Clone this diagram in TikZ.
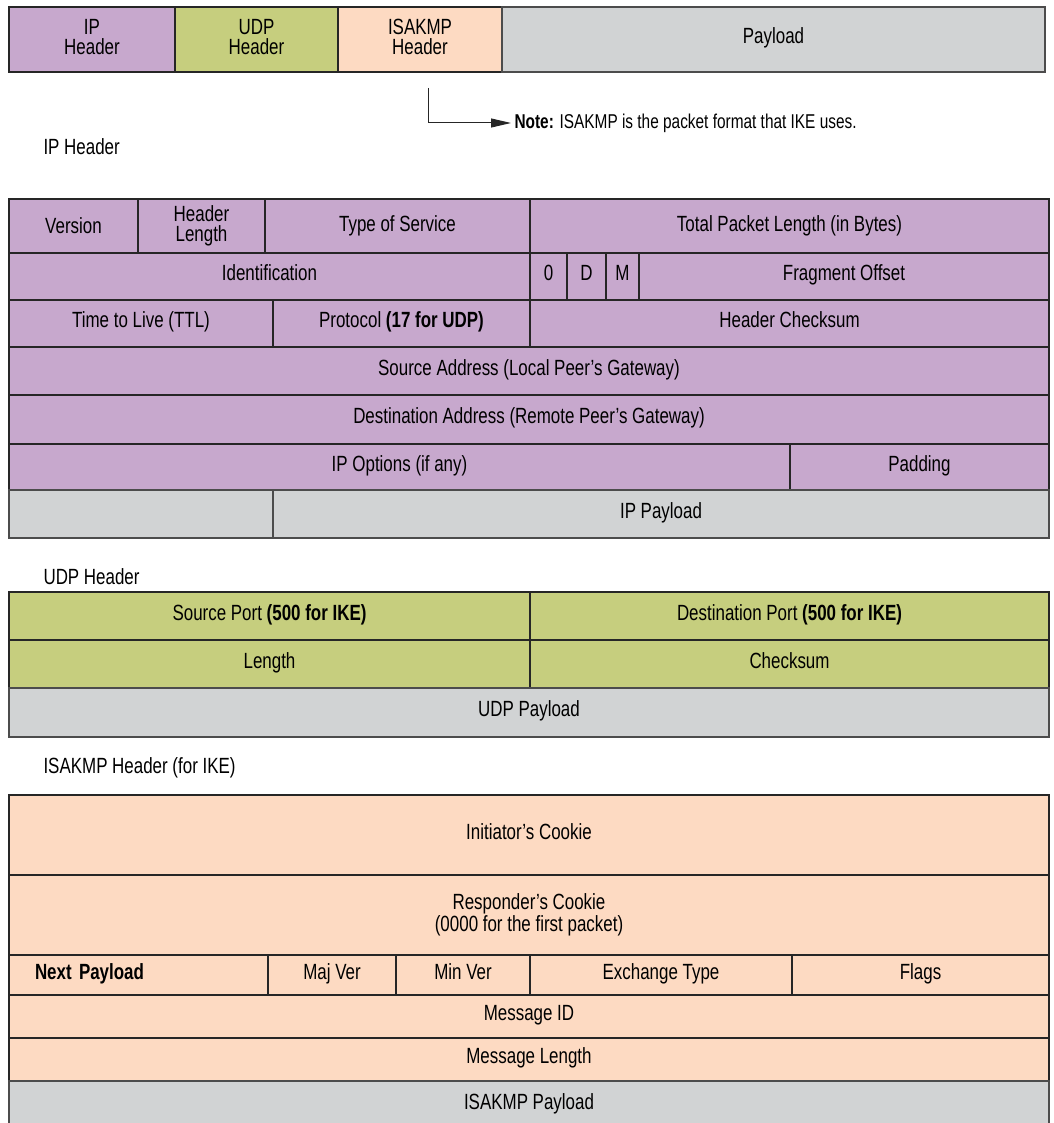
\documentclass[tikz,border=0pt]{standalone}
\usepackage{fontspec}
\setmainfont[FakeStretch=0.77]{Liberation Sans}
\usepackage{xcolor}
\usepackage{tikz}
\usetikzlibrary{arrows.meta,positioning}
\definecolor{ippurple}{RGB}{199,168,205}
\definecolor{udpgreen}{RGB}{198,206,126}
\definecolor{isapeach}{RGB}{253,218,194}
\definecolor{paygray}{RGB}{209,211,212}

\begin{document}
\begin{tikzpicture}[x=1pt,y=-1pt,
    every node/.style={font=\fontsize{22}{20}\selectfont},
    cell/.style={rectangle,draw=black!85,line width=1.4pt,inner sep=0pt,align=center,text height=16pt,text depth=8pt},
    plain/.style={text height={},text depth={}},
    ipbox/.style={cell,fill=ippurple},
    udpbox/.style={cell,fill=udpgreen},
    isabox/.style={cell,fill=isapeach},
    paybox/.style={cell,fill=paygray,draw=black!70},
    title/.style={anchor=west},
    notearrow/.style={-{Triangle[length=20pt,width=9pt]},line width=1pt,black!85},
]
\useasboundingbox (0,0) rectangle (1053,1123);

\node[ipbox,plain,minimum width=166,minimum height=65]  (tip)  at (92,39.5)    {IP\\Header\strut};
\node[udpbox,plain,minimum width=163,minimum height=65] (tudp) at (256.5,39.5) {UDP\\Header\strut};
\node[isabox,plain,minimum width=164,minimum height=65] (tisa) at (420,39.5)   {ISAKMP\\Header\strut};
\node[paybox,minimum width=543,minimum height=65] (tpay) at (773.5,39.5) {Payload};

\coordinate (tap) at (428,88);
\node[anchor=west,font=\fontsize{20}{20}\selectfont] (note) at (511,123) {\textbf{Note:} ISAKMP is the packet format that IKE uses.};
\draw[notearrow] (tap) |- (note.west);

\node[title] (iptitle) at (40,147) {IP Header};
\node[ipbox,plain,minimum width=129,minimum height=54] (ver)  at (73.5,226)  {Version};
\node[ipbox,plain,minimum width=127,minimum height=54] (hlen) at (201.5,226) {Header\\Length};
\node[ipbox,plain,minimum width=265,minimum height=54] (tos)  at (397.5,226) {Type of Service};
\node[ipbox,plain,minimum width=519,minimum height=54] (tlen) at (789.5,226) {Total Packet Length (in Bytes)};
\node[ipbox,minimum width=521,minimum height=47] (ident) at (269.5,276.5) {Identification};
\node[ipbox,minimum width=37,minimum height=47]  (fz)    at (548.5,276.5) {0};
\node[ipbox,minimum width=39,minimum height=47]  (fd)    at (586.5,276.5) {D};
\node[ipbox,minimum width=33,minimum height=47]  (fm)    at (622.5,276.5) {M};
\node[ipbox,minimum width=410,minimum height=47] (frag)  at (844,276.5)   {Fragment Offset};
\node[ipbox,minimum width=264,minimum height=47] (ttl)   at (141,323.5)   {Time to Live (TTL)};
\node[ipbox,minimum width=257,minimum height=47] (proto) at (401.5,323.5) {Protocol \textbf{(17 for UDP)}};
\node[ipbox,minimum width=519,minimum height=47] (csum)  at (789.5,323.5) {Header Checksum};
\node[ipbox,minimum width=1040,minimum height=48] (src)  at (529,371)     {Source Address (Local Peer’s Gateway)};
\node[ipbox,minimum width=1040,minimum height=49] (dst)  at (529,419.5)   {Destination Address (Remote Peer’s Gateway)};
\node[ipbox,minimum width=781,minimum height=46] (opt)   at (399.5,467)   {IP Options (if any)};
\node[ipbox,minimum width=259,minimum height=46] (pad)   at (919.5,467)   {Padding};
\node[paybox,minimum width=264,minimum height=48] (ipgap) at (141,514)    {};
\node[paybox,minimum width=776,minimum height=48] (ippay) at (661,514)    {IP Payload};

\node[title] (udptitle) at (40,577) {UDP Header};
\node[udpbox,minimum width=521,minimum height=48] (sport) at (269.5,616) {Source Port \textbf{(500 for IKE)}};
\node[udpbox,minimum width=519,minimum height=48] (dport) at (789.5,616) {Destination Port \textbf{(500 for IKE)}};
\node[udpbox,minimum width=521,minimum height=48] (ulen)  at (269.5,664) {Length};
\node[udpbox,minimum width=519,minimum height=48] (ucsum) at (789.5,664) {Checksum};
\node[paybox,minimum width=1040,minimum height=49] (upay) at (529,712.5) {UDP Payload};

\node[title] (isatitle) at (40,768) {ISAKMP Header (for IKE)};
\node[isabox,minimum width=1040,minimum height=80] (icook) at (529,835) {Initiator’s Cookie};
\node[isabox,plain,minimum width=1040,minimum height=80] (rcook) at (529,915) {Responder’s Cookie\\(0000 for the first packet)};
\node[isabox,minimum width=259,minimum height=40,text width=207,align=left] (np) at (138.5,975) {\textbf{Next Payload}};
\node[isabox,minimum width=128,minimum height=40] (maj)   at (332,975)   {Maj Ver};
\node[isabox,minimum width=134,minimum height=40] (minv)  at (463,975)   {Min Ver};
\node[isabox,minimum width=262,minimum height=40] (xtype) at (661,975)   {Exchange Type};
\node[isabox,minimum width=257,minimum height=40] (flags) at (920.5,975) {Flags};
\node[isabox,minimum width=1040,minimum height=43] (msgid)  at (529,1016.5) {Message ID};
\node[isabox,minimum width=1040,minimum height=43] (msglen) at (529,1059.5) {Message Length};
\node[paybox,minimum width=1040,minimum height=49] (ispay)  at (529,1105.5) {ISAKMP Payload};
\end{tikzpicture}
\end{document}
